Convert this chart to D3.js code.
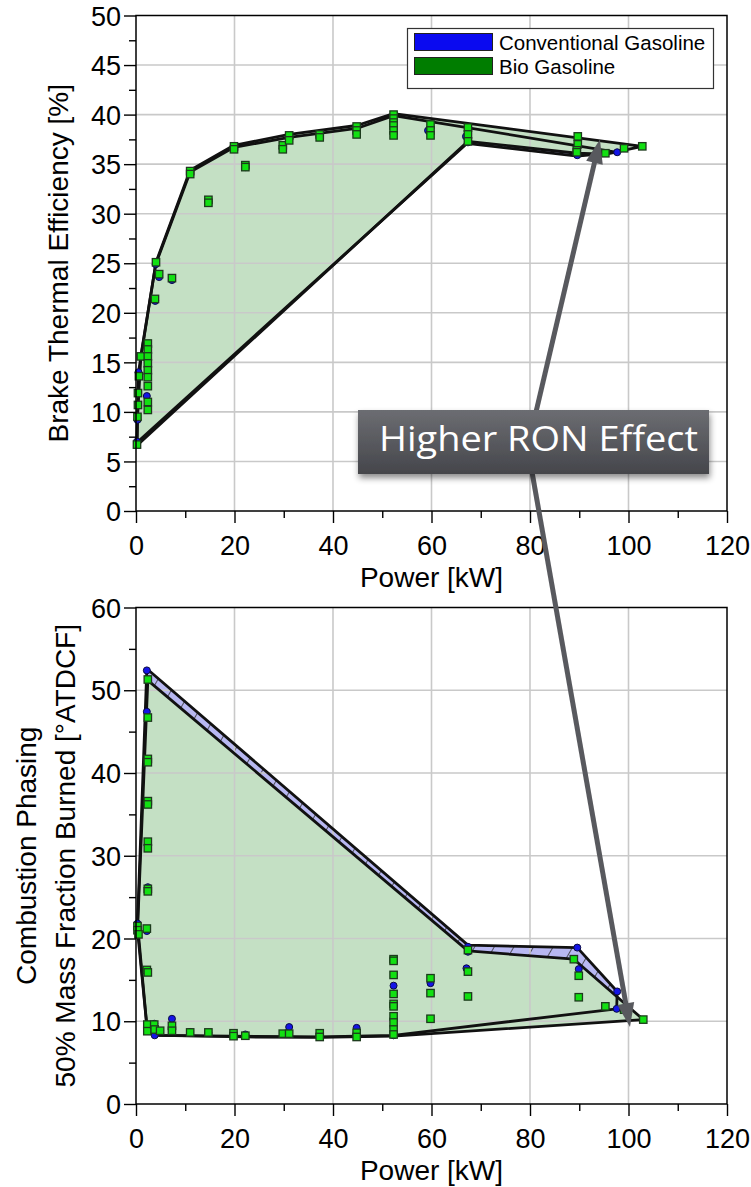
<!DOCTYPE html>
<html>
<head>
<meta charset="utf-8">
<script src="https://cdn.jsdelivr.net/npm/d3@7"></script>
<style>
  html, body { margin: 0; padding: 0; background: #ffffff; }
  svg { display: block; }
</style>
</head>
<body>
<svg id="chart" width="751" height="1187"></svg>
<script>
// ---------- data ----------
const powerTicks = [0, 20, 40, 60, 80, 100, 120];
const bteTicks = [0, 5, 10, 15, 20, 25, 30, 35, 40, 45, 50];
const ca50Ticks = [0, 10, 20, 30, 40, 50, 60];
const seriesNames = ["Conventional Gasoline", "Bio Gasoline"];

// Brake thermal efficiency [%] vs power [kW]
const bteConventional = [
  [0.2, 7.0], [0.3, 9.2], [0.5, 14.0], [2.4, 16.5], [2.4, 15.2], [2.4, 13.8], [2.2, 11.6],
  [2.4, 10.6], [3.9, 21.2], [4.0, 24.9], [4.7, 23.6], [7.3, 23.3], [11.0, 34.1], [14.7, 31.2],
  [19.9, 36.6], [22.2, 34.7], [29.8, 36.6], [31.1, 37.6], [37.3, 37.8], [44.8, 38.5],
  [52.3, 39.8], [52.3, 39.0], [52.3, 38.2], [59.3, 38.4], [67.0, 37.8], [67.4, 37.2],
  [89.6, 35.9], [89.7, 36.9], [97.7, 36.2]
];
const bteBio = [
  [0.2, 6.7], [0.3, 9.5], [0.4, 10.7], [0.4, 11.9], [0.6, 13.6], [1.0, 15.6],
  [2.4, 16.9], [2.4, 16.3], [2.4, 15.6], [2.4, 14.9], [2.4, 14.2], [2.4, 13.5], [2.4, 12.6],
  [2.4, 11.0], [2.4, 10.2], [3.85, 21.4], [4.06, 25.1], [4.7, 23.9], [7.3, 23.5],
  [11.0, 34.3], [11.0, 34.0], [14.7, 31.4], [14.7, 31.1], [19.9, 36.8], [19.9, 36.5],
  [22.2, 34.9], [22.2, 34.7], [29.8, 36.9], [29.8, 36.5], [31.1, 37.9], [31.1, 37.4],
  [37.3, 38.0], [37.3, 37.7], [44.8, 38.8], [44.8, 38.4], [44.8, 38.0],
  [52.3, 40.0], [52.3, 39.6], [52.3, 39.2], [52.3, 38.9], [52.3, 38.4], [52.3, 37.9],
  [59.8, 39.0], [59.8, 38.4], [59.8, 37.9], [67.4, 38.7], [67.4, 38.0], [67.4, 37.3],
  [89.7, 37.8], [89.7, 37.0], [89.5, 36.4], [89.5, 36.2], [95.3, 36.1], [99.1, 36.6], [102.8, 36.8]
];
const bteConventionalHull = [
  [0.2, 6.9], [0.5, 14.0], [4.0, 24.9], [11.0, 34.2], [19.9, 36.7], [31.1, 37.7], [44.8, 38.6],
  [52.3, 39.9], [97.7, 36.2], [89.6, 35.8], [67.2, 37.1]
];
const bteBioHull = [
  [0.2, 6.6], [0.3, 9.4], [1.0, 15.7], [4.06, 25.1], [11.0, 34.4], [19.9, 36.9], [31.1, 38.0],
  [44.8, 38.9], [52.3, 40.1], [102.8, 36.8], [95.3, 36.0], [89.5, 36.1], [67.4, 37.3]
];

// Combustion phasing CA50 [°ATDCF] vs power [kW]
const ca50Conventional = [
  [0.3, 21.8], [2.2, 52.4], [2.2, 47.4], [2.4, 41.5], [2.4, 36.4], [2.4, 31.3], [2.4, 26.2],
  [2.2, 20.9], [2.4, 16.1], [3.7, 9.7], [3.8, 8.3], [7.3, 10.3], [11.0, 8.7], [14.7, 8.6],
  [19.8, 8.4], [22.2, 8.4], [31.1, 9.3], [37.3, 8.5], [44.8, 9.2], [52.3, 14.3], [52.3, 10.4],
  [52.3, 9.2], [52.3, 8.3], [59.8, 14.6], [67.4, 19.0], [67.4, 18.4], [67.1, 16.4],
  [89.6, 18.9], [89.9, 16.3], [97.7, 13.6], [97.6, 11.5]
];
const ca50Bio = [
  [0.3, 21.5], [0.3, 21.0], [0.5, 20.5], [2.2, 21.2], [2.4, 51.3], [2.4, 46.7], [2.4, 41.7],
  [2.4, 41.3], [2.4, 36.6], [2.4, 36.2], [2.4, 31.7], [2.4, 30.9], [2.4, 26.0], [2.4, 25.7],
  [2.2, 16.2], [2.4, 15.9], [2.3, 9.6], [2.3, 8.8], [3.7, 9.6], [3.8, 9.0], [4.9, 8.85],
  [7.3, 9.45], [7.3, 8.85], [11.0, 8.65], [14.7, 8.65], [19.8, 8.55], [19.8, 8.2], [22.2, 8.25],
  [29.8, 8.5], [31.1, 8.5], [37.3, 8.55], [37.3, 8.1], [44.8, 8.6], [44.8, 8.1],
  [52.3, 17.5], [52.3, 17.3], [52.3, 15.6], [52.3, 13.3], [52.3, 12.1], [52.3, 11.8],
  [52.3, 10.6], [52.3, 9.85], [52.3, 9.0], [52.3, 8.4],
  [59.8, 15.2], [59.8, 13.4], [59.8, 10.3], [67.4, 18.6], [67.4, 16.0], [67.4, 13.0],
  [88.9, 17.5], [89.9, 15.5], [89.9, 12.9], [95.3, 11.8], [99.1, 11.4], [103.0, 10.2]
];
const ca50ConventionalHull = [
  [2.2, 52.6], [67.4, 19.2], [89.6, 18.9], [97.7, 13.6], [97.6, 11.5], [52.3, 8.3],
  [37.3, 8.1], [3.8, 8.3], [2.3, 8.8], [0.3, 21.8]
];
const ca50BioHull = [
  [2.4, 51.2], [67.4, 18.5], [88.9, 17.5], [103.0, 10.2], [52.3, 8.2], [37.3, 8.05],
  [22.2, 8.1], [4.9, 8.3], [2.3, 8.8], [0.3, 21.0]
];

const annotationText = "Higher RON Effect";
const annotationTargets = [[94.2, 37.5], [100.3, 9.3]];

// ---------- styling ----------
const FONT = "'Liberation Sans', Arial, Helvetica, sans-serif";
const GRID = "#c9c9c9";
const CONV_COLOR = "#1414e6";
const BIO_COLOR = "#12e012";
const BIO_FILL = "#c4e0c4";
const CONV_FILL = "#b8b8f2";

const svg = d3.select("#chart");
svg.append("rect").attr("width", 751).attr("height", 1187).attr("fill", "#fff");

const defs = svg.append("defs");
const hatch = defs.append("pattern")
  .attr("id", "convHatch").attr("patternUnits", "userSpaceOnUse")
  .attr("width", 17).attr("height", 17)
  .attr("patternTransform", "rotate(30)");
hatch.append("rect").attr("width", 17).attr("height", 17).attr("fill", CONV_FILL);
hatch.append("line").attr("x1", 0).attr("y1", 0).attr("x2", 0).attr("y2", 17)
  .attr("stroke", "#333").attr("stroke-width", 1.6);

const boxGrad = defs.append("linearGradient").attr("id", "boxGrad")
  .attr("x1", 0).attr("y1", 0).attr("x2", 0).attr("y2", 1);
boxGrad.append("stop").attr("offset", "0%").attr("stop-color", "#6c6d72");
boxGrad.append("stop").attr("offset", "100%").attr("stop-color", "#45464b");

const shadow = defs.append("filter").attr("id", "boxShadow")
  .attr("x", "-10%").attr("y", "-20%").attr("width", "130%").attr("height", "160%");
shadow.append("feDropShadow").attr("dx", 1).attr("dy", 4).attr("stdDeviation", 3)
  .attr("flood-color", "#000").attr("flood-opacity", 0.45);

const x = d3.scaleLinear().domain([0, 120]).range([136, 727]);
const yTop = d3.scaleLinear().domain([0, 50]).range([511, 15.5]);
const yBottom = d3.scaleLinear().domain([0, 60]).range([1104, 607.5]);

function drawPanel(cfg) {
  const y = cfg.y;
  const [y0, y1] = y.range();
  const g = svg.append("g");

  // hull polygons
  const line = d3.line().x(d => x(d[0])).y(d => y(d[1])).curve(d3.curveLinearClosed);
  g.append("path").attr("d", line(cfg.convHull)).attr("fill", "url(#convHatch)");
  g.append("path").attr("d", line(cfg.bioHull)).attr("fill", BIO_FILL);

  // grid
  const grid = g.append("g").attr("stroke", GRID).attr("stroke-width", 1.6);
  grid.selectAll(".gy").data(cfg.yTicks.slice(1, -1)).join("line")
    .attr("x1", x(0)).attr("x2", x(120)).attr("y1", d => y(d)).attr("y2", d => y(d));
  grid.selectAll(".gx").data(powerTicks.slice(1, -1)).join("line")
    .attr("y1", y0).attr("y2", y1).attr("x1", d => x(d)).attr("x2", d => x(d));

  // hull outlines
  [cfg.convHull, cfg.bioHull].forEach(h => {
    g.append("path").attr("d", line(h)).attr("fill", "none")
      .attr("stroke", "#111").attr("stroke-width", 2.8).attr("stroke-linejoin", "round");
  });

  // markers
  g.append("g").selectAll("circle").data(cfg.conv).join("circle")
    .attr("cx", d => x(d[0])).attr("cy", d => y(d[1])).attr("r", 3.5)
    .attr("fill", CONV_COLOR).attr("stroke", "#0a0a44").attr("stroke-width", 1);
  const s = 7.4;
  g.append("g").selectAll("rect").data(cfg.bio).join("rect")
    .attr("x", d => x(d[0]) - s / 2).attr("y", d => y(d[1]) - s / 2)
    .attr("width", s).attr("height", s)
    .attr("fill", BIO_COLOR).attr("stroke", "#1d3a1d").attr("stroke-width", 1.3);

  // frame
  g.append("rect").attr("x", x(0)).attr("y", y1).attr("width", x(120) - x(0)).attr("height", y0 - y1)
    .attr("fill", "none").attr("stroke", "#000").attr("stroke-width", 1.5);

  // y axis ticks
  const yAxis = d3.axisLeft(y).tickValues(cfg.yTicks).tickSize(12).tickPadding(3).tickFormat(d3.format("d"));
  const yMinor = d3.axisLeft(y).tickValues(cfg.yMinor).tickSize(7).tickFormat("");
  const ya = g.append("g").attr("transform", `translate(${x(0)},0)`).call(yAxis);
  g.append("g").attr("transform", `translate(${x(0)},0)`).call(yMinor)
    .call(a => a.select(".domain").remove());
  ya.select(".domain").remove();
  ya.selectAll("text").attr("font-family", FONT).attr("font-size", 27).attr("fill", "#000")
    .attr("dy", "0.36em");

  // x axis ticks
  const xAxis = d3.axisBottom(x).tickValues(powerTicks).tickSize(12).tickFormat(d3.format("d"));
  const xMinor = d3.axisBottom(x).tickValues(d3.range(10, 120, 20)).tickSize(7).tickFormat("");
  const xa = g.append("g").attr("transform", `translate(0,${y0})`).call(xAxis);
  g.append("g").attr("transform", `translate(0,${y0})`).call(xMinor)
    .call(a => a.select(".domain").remove());
  xa.select(".domain").remove();
  xa.selectAll("text").attr("font-family", FONT).attr("font-size", 27).attr("fill", "#000")
    .attr("dy", null).attr("y", 44);
  g.selectAll(".tick line").attr("stroke", "#000").attr("stroke-width", 1.4);

  // titles
  g.append("text").attr("x", (x(0) + x(120)) / 2).attr("y", y0 + 76)
    .attr("text-anchor", "middle").attr("font-family", FONT).attr("font-size", 28)
    .text("Power [kW]");
  const cy = (y0 + y1) / 2;
  cfg.yTitle.forEach((t, i) => {
    g.append("text")
      .attr("transform", `translate(${cfg.yTitleX[i]},${cy}) rotate(-90)`)
      .attr("text-anchor", "middle").attr("font-family", FONT).attr("font-size", 28)
      .text(t);
  });
}

drawPanel({
  y: yTop,
  yTicks: bteTicks,
  yMinor: d3.range(2.5, 50, 5),
  conv: bteConventional, bio: bteBio,
  convHull: bteConventionalHull, bioHull: bteBioHull,
  yTitle: ["Brake Thermal Efficiency [%]"], yTitleX: [68]
});

drawPanel({
  y: yBottom,
  yTicks: ca50Ticks,
  yMinor: d3.range(5, 60, 10),
  conv: ca50Conventional, bio: ca50Bio,
  convHull: ca50ConventionalHull, bioHull: ca50BioHull,
  yTitle: ["Combustion Phasing", "50% Mass Fraction Burned [°ATDCF]"], yTitleX: [36, 75]
});

// legend
const legendColors = ["#0a0af0", "#007d00"];
const legend = svg.append("g");
legend.append("rect").attr("x", 407.5).attr("y", 28.5).attr("width", 306).attr("height", 60)
  .attr("fill", "#fff").attr("stroke", "#333").attr("stroke-width", 1.2);
legendColors.forEach((c, i) => {
  legend.append("rect").attr("x", 414.5).attr("y", 33.5 + i * 24).attr("width", 78).attr("height", 17)
    .attr("fill", c).attr("stroke", "#222").attr("stroke-width", 1);
  legend.append("text").attr("x", 499).attr("y", 49.5 + i * 24)
    .attr("font-family", FONT).attr("font-size", 20.5).attr("fill", "#000")
    .text(seriesNames[i]);
});

// annotation: arrows first, then the label box over them
const arrows = [
  { from: [536, 412], to: [x(annotationTargets[0][0]), yTop(annotationTargets[0][1])] },
  { from: [532, 472], to: [x(annotationTargets[1][0]), yBottom(annotationTargets[1][1])] }
];
const ann = svg.append("g");
arrows.forEach(a => {
  const dx = a.to[0] - a.from[0], dy = a.to[1] - a.from[1];
  const len = Math.hypot(dx, dy), ux = dx / len, uy = dy / len;
  const headL = 24, headW = 8.5;
  const bx = a.to[0] - ux * headL, by = a.to[1] - uy * headL;
  ann.append("line").attr("x1", a.from[0]).attr("y1", a.from[1]).attr("x2", bx + ux * 2).attr("y2", by + uy * 2)
    .attr("stroke", "#58595e").attr("stroke-width", 5);
  ann.append("path")
    .attr("d", `M${a.to[0]},${a.to[1]}L${bx - uy * headW},${by + ux * headW}L${bx + uy * headW},${by - ux * headW}Z`)
    .attr("fill", "#58595e");
});
ann.append("rect").attr("x", 358).attr("y", 410).attr("width", 351).attr("height", 64)
  .attr("fill", "url(#boxGrad)").attr("filter", "url(#boxShadow)");
ann.append("text").attr("x", 379).attr("y", 451)
  .attr("font-family", "'Open Sans', 'Noto Sans', sans-serif").attr("font-size", 35)
  .attr("textLength", 319).attr("lengthAdjust", "spacingAndGlyphs")
  .attr("fill", "#ffffff").text(annotationText);
</script>
</body>
</html>
